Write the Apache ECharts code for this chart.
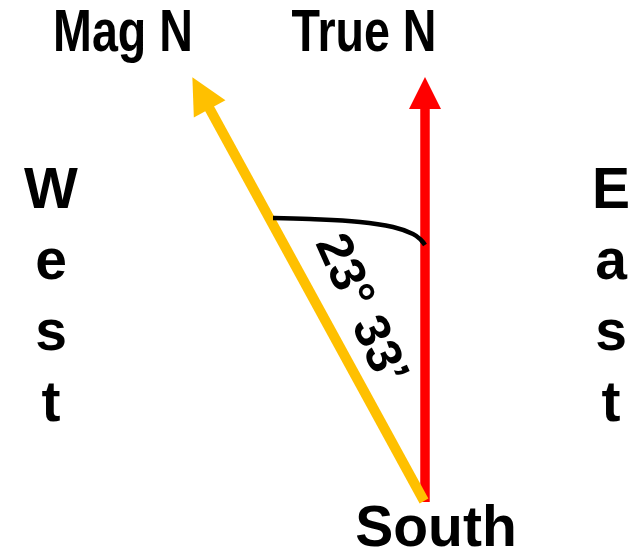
<!DOCTYPE html>
<html>
<head>
<meta charset="utf-8">
<script src="https://cdn.jsdelivr.net/npm/echarts@6/dist/echarts.min.js"></script>
<style>
  html, body { margin: 0; padding: 0; background: #ffffff; }
  #chart { width: 640px; height: 554px; }
</style>
</head>
<body>
<div id="chart"></div>
<script>
// ---- data (diagram coordinates: x to the right, y downward) ----
const trueNorthArrow = [[425, 502], [425, 93]];
const magNorthArrow = [[424, 501], [201, 93]];
const angleArc = [[273, 218], [310, 219], [360, 222], [393, 227], [413, 234], [421, 240], [425, 245]];
const titleTexts = ['Mag N', 'True N'];
const sideTexts = ['West', 'East'];
const bottomText = 'South';
const angleText = '23° 33’';

const chart = echarts.init(document.getElementById('chart'));

const fam = "'Liberation Sans', Arial, Helvetica, sans-serif";

const option = {
  animation: false,
  backgroundColor: '#ffffff',
  grid: { left: 0, right: 0, top: 0, bottom: 0 },
  xAxis: { type: 'value', min: 0, max: 640, show: false },
  yAxis: { type: 'value', min: 0, max: 554, inverse: true, show: false },
  series: [
    {
      type: 'lines',
      coordinateSystem: 'cartesian2d',
      silent: true,
      symbol: ['none', 'triangle'],
      symbolSize: 32,
      lineStyle: { color: '#FF0000', width: 9.5, opacity: 1, cap: 'butt' },
      data: [{ coords: trueNorthArrow }],
      z: 2
    },
    {
      type: 'lines',
      coordinateSystem: 'cartesian2d',
      silent: true,
      symbol: ['none', 'triangle'],
      symbolSize: 36,
      lineStyle: { color: '#FFC000', width: 10, opacity: 1, cap: 'butt' },
      data: [{ coords: magNorthArrow }],
      z: 3
    },
    {
      type: 'line',
      silent: true,
      smooth: 0.4,
      showSymbol: false,
      symbol: 'none',
      lineStyle: { color: '#000', width: 4.5 },
      data: angleArc,
      z: 4
    }
  ]
};

chart.setOption(option);

function px(p) { return chart.convertToPixel({ gridIndex: 0 }, p); }

function txt(pos, text, size, extra) {
  const p = px(pos);
  return Object.assign({
    type: 'text',
    x: p[0],
    y: p[1],
    silent: true,
    z: 10,
    style: {
      text: text,
      fill: '#000000',
      font: 'bold ' + size + 'px ' + fam,
      align: 'center',
      verticalAlign: 'middle',
      lineHeight: (extra && extra.lineHeight) || size
    }
  }, extra && extra.el ? extra.el : {});
}

chart.setOption({
  graphic: [
    txt([123, 35], titleTexts[0], 59, { el: { scaleX: 0.79 } }),
    txt([364, 35], titleTexts[1], 59, { el: { scaleX: 0.79 } }),
    txt([51, 299], sideTexts[0].split('').join('\n'), 57, { lineHeight: 71 }),
    txt([611, 299], sideTexts[1].split('').join('\n'), 57, { lineHeight: 71 }),
    txt([436, 530], bottomText, 57),
    txt([360, 310], angleText, 50, { el: { rotation: -66 * Math.PI / 180 } })
  ]
});
</script>
</body>
</html>
